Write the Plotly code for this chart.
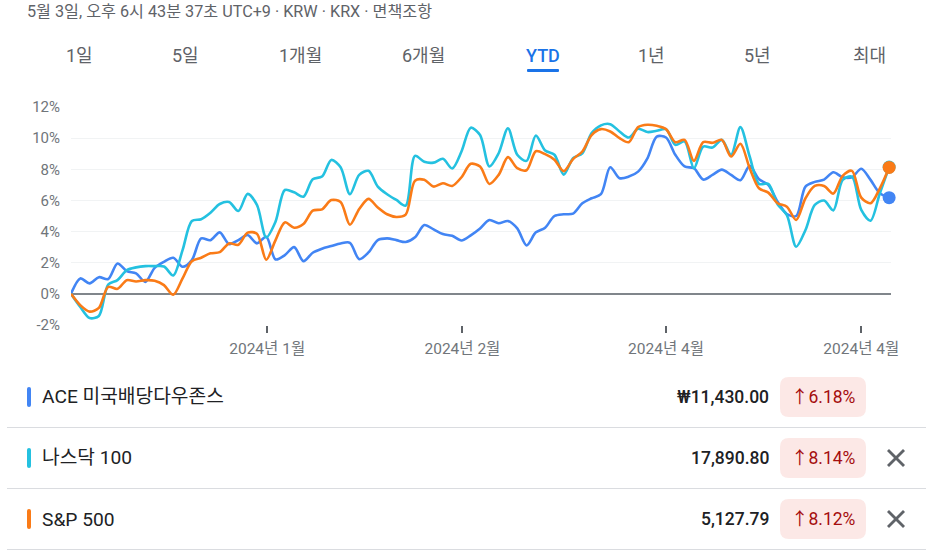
import plotly.graph_objects as go

W, H = 933, 557
FONT = "Roboto, 'Noto Sans CJK KR', sans-serif"

# trading day index, 0 = first day of the period
ace = [0, 0.99, 0.67, 1.07, 0.95, 1.95, 1.46, 1.31, 0.77, 1.67, 2.06, 2.32, 1.74, 2.17, 3.56, 3.45, 3.95, 3.2, 3.45, 3.78,
       3.24, 3.67, 2.21, 2.49, 3.0, 2.1, 2.64, 2.9, 3.07, 3.24, 3.28, 2.23, 2.66, 3.45, 3.56, 3.45, 3.33, 3.63, 4.42, 4.14,
       3.84, 3.73, 3.43, 3.76, 4.2, 4.74, 4.53, 4.68, 4.2, 3.11, 3.95, 4.25, 5.0, 5.11, 5.15, 5.82, 6.14, 6.4, 8.13, 7.43,
       7.53, 7.85, 8.7, 10.1, 10.04, 8.93, 8.18, 8.07, 7.34, 7.64, 7.98, 7.64, 7.3, 8.22, 7.36, 7.0, 5.92, 5.13, 5.0, 6.89,
       7.19, 7.34, 7.81, 7.49, 7.49, 8.03, 7.32, 6.46, 6.18]
nasdaq = [0, -0.84, -1.55, -1.42, 0.6, 0.88, 1.52, 1.7, 1.78, 1.78, 1.76, 1.18, 2.81, 4.68, 4.79, 5.21, 5.77, 5.9, 5.32, 6.42,
          5.71, 3.63, 4.64, 6.67, 6.52, 6.24, 7.36, 7.53, 8.6, 8.13, 6.4, 7.64, 7.9, 6.89, 6.4, 6.03, 5.67, 8.86, 8.48, 8.43,
          8.67, 8.05, 9.14, 10.67, 10.2, 8.18, 9.03, 10.64, 8.93, 8.54, 10.17, 9.2, 8.93, 7.66, 8.71, 9.03, 10.32, 10.82, 10.9, 10.43,
          10.04, 10.6, 10.39, 10.47, 10.58, 9.57, 9.79, 8.07, 9.46, 9.4, 9.89, 8.93, 10.71, 8.82, 7.06, 7.06, 5.75, 5.06, 3.03, 4.1,
          5.71, 5.99, 5.36, 7.32, 7.53, 5.39, 4.7, 6.46, 8.14]
sp500 = [0, -0.73, -1.14, -0.9, 0.45, 0.32, 0.88, 0.79, 0.88, 0.84, 0.56, -0.06, 0.99, 2.1, 2.32, 2.6, 2.68, 3.24, 3.15, 3.93,
         3.86, 2.19, 3.45, 4.59, 4.25, 4.49, 5.34, 5.43, 6.02, 5.9, 4.44, 5.45, 6.1, 5.54, 5.11, 4.94, 5.09, 7.27, 7.32, 6.89,
         7.1, 6.93, 7.49, 8.35, 8.18, 7.06, 7.64, 8.78, 8.07, 7.94, 9.16, 8.97, 8.61, 7.88, 8.65, 9.14, 10.2, 10.58, 10.43, 10.0,
         9.74, 10.71, 10.86, 10.79, 10.58, 9.74, 9.89, 8.54, 9.74, 9.7, 9.89, 8.82, 9.64, 8.07, 6.78, 6.5, 5.82, 5.6, 4.74, 6.14,
         6.93, 6.93, 6.44, 7.58, 7.9, 6.18, 5.82, 6.78, 8.12]

names = ["ACE 미국배당다우존스", "나스닥 100", "S&P 500"]
colors = ["#4285f4", "#24c1e0", "#fa7b17"]
prices = ["₩11,430.00", "17,890.80", "5,127.79"]
changes = ["↑6.18%", "↑8.14%", "↑8.12%"]

tabs = ["1일", "5일", "1개월", "6개월", "YTD", "1년", "5년", "최대"]
tab_x = [79, 185, 300, 423, 543, 651, 757, 869]

y_ticks = [-2, 0, 2, 4, 6, 8, 10, 12]
x_ticks = [21.1, 42.1, 64, 85]
x_labels = ["2024년 1월", "2024년 2월", "2024년 4월", "2024년 4월"]


def px(x):
    return x / W


def py(y):
    return 1 - y / H


def rrect(x0, y0, x1, y1, r):
    # rounded box as a svg path, paper coords
    rx, ry = r / W, r / H
    a, b, c, d = px(x0), py(y0), px(x1), py(y1)
    return (f"M{a + rx},{b} L{c - rx},{b} Q{c},{b} {c},{b - ry} L{c},{d + ry} Q{c},{d} {c - rx},{d} "
            f"L{a + rx},{d} Q{a},{d} {a},{d + ry} L{a},{b - ry} Q{a},{b} {a + rx},{b} Z")


def label(x, y, text, size, color, anchor="left", weight=400):
    return dict(x=px(x), y=py(y), xref="paper", yref="paper", text=text, showarrow=False,
                xanchor=anchor, yanchor="middle", font=dict(family=FONT, size=size, color=color, weight=weight))


fig = go.Figure()

days = list(range(len(ace)))
for series, name, color in [(ace, names[0], colors[0]), (nasdaq, names[1], colors[1]), (sp500, names[2], colors[2])]:
    fig.add_trace(go.Scatter(x=days, y=series, name=name, mode="lines",
                             line=dict(color=color, width=2.6, shape="spline", smoothing=0.85)))
for series, color in [(ace, colors[0]), (nasdaq, colors[1]), (sp500, colors[2])]:
    fig.add_trace(go.Scatter(x=days[-1:], y=series[-1:], mode="markers",
                             marker=dict(color=color, size=13), cliponaxis=False))

shapes = []
annotations = [label(25, 11, "5월 3일, 오후 6시 43분 37초 UTC+9 · KRW · KRX · 면책조항", 16.2, "#5f6368")]

for t, x in zip(tabs, tab_x):
    active = t == "YTD"
    annotations.append(label(x, 55, t, 18, "#1a73e8" if active else "#5f6368", "center", 500 if active else 400))
shapes.append(dict(type="path", path=rrect(527, 69, 559, 72, 1), xref="paper", yref="paper",
                   fillcolor="#1a73e8", line_width=0))

rows = [397, 458, 519]
for i, y in enumerate(rows):
    shapes.append(dict(type="path", path=rrect(27, y - 10, 31, y + 10, 2), xref="paper", yref="paper",
                       fillcolor=colors[i], line_width=0))
    annotations.append(label(40, y - 1 + (i == 2), names[i], 19.2, "#202124"))
    annotations.append(label(771, y, prices[i], 17.5, "#202124", "right", 500))
    shapes.append(dict(type="path", path=rrect(780, y - 20, 866, y + 20, 9), xref="paper", yref="paper",
                       fillcolor="#fce8e6", line_width=0))
    annotations.append(label(823.5, y, changes[i], 17.5, "#a50e0e", "center", 400))
    # divider under the row
    shapes.append(dict(type="line", x0=px(7), x1=px(926), y0=py(y + 30.5), y1=py(y + 30.5), xref="paper", yref="paper",
                       line=dict(color="#dadce0", width=1)))
    if i > 0:
        for dy in (-1, 1):
            shapes.append(dict(type="line", x0=px(888), x1=px(904), y0=py(y - 8 * dy), y1=py(y + 8 * dy),
                               xref="paper", yref="paper", line=dict(color="#5f6368", width=2.8)))

fig.update_layout(
    width=W, height=H, margin=dict(l=0, r=0, t=0, b=0, autoexpand=False),
    paper_bgcolor="white", plot_bgcolor="white", showlegend=False,
    shapes=shapes, annotations=annotations,
    font=dict(family=FONT, color="#70757a", size=14),
    xaxis=dict(domain=[px(71), px(891)], range=[0, 88.2], tickvals=x_ticks, ticktext=x_labels,
               ticks="outside", ticklen=7, tickwidth=2, tickcolor="#5f6368",
               showgrid=False, zeroline=False, showline=False, ticklabelstandoff=2,
               tickfont=dict(family=FONT, size=15.5, color="#70757a")),
    yaxis=dict(domain=[py(325), py(107)], range=[-2, 12], tickvals=y_ticks,
               ticktext=[f"{v}%" for v in y_ticks], gridcolor="#f1f3f4", gridwidth=1,
               zeroline=True, zerolinecolor="#80868b", zerolinewidth=2, showline=False,
               ticks="", ticklabelstandoff=10,
               tickfont=dict(family=FONT, size=15, color="#70757a")),
)

fig.write_html("out.html", post_script="document.body.style.margin='0';",
               config=dict(displayModeBar=False))
